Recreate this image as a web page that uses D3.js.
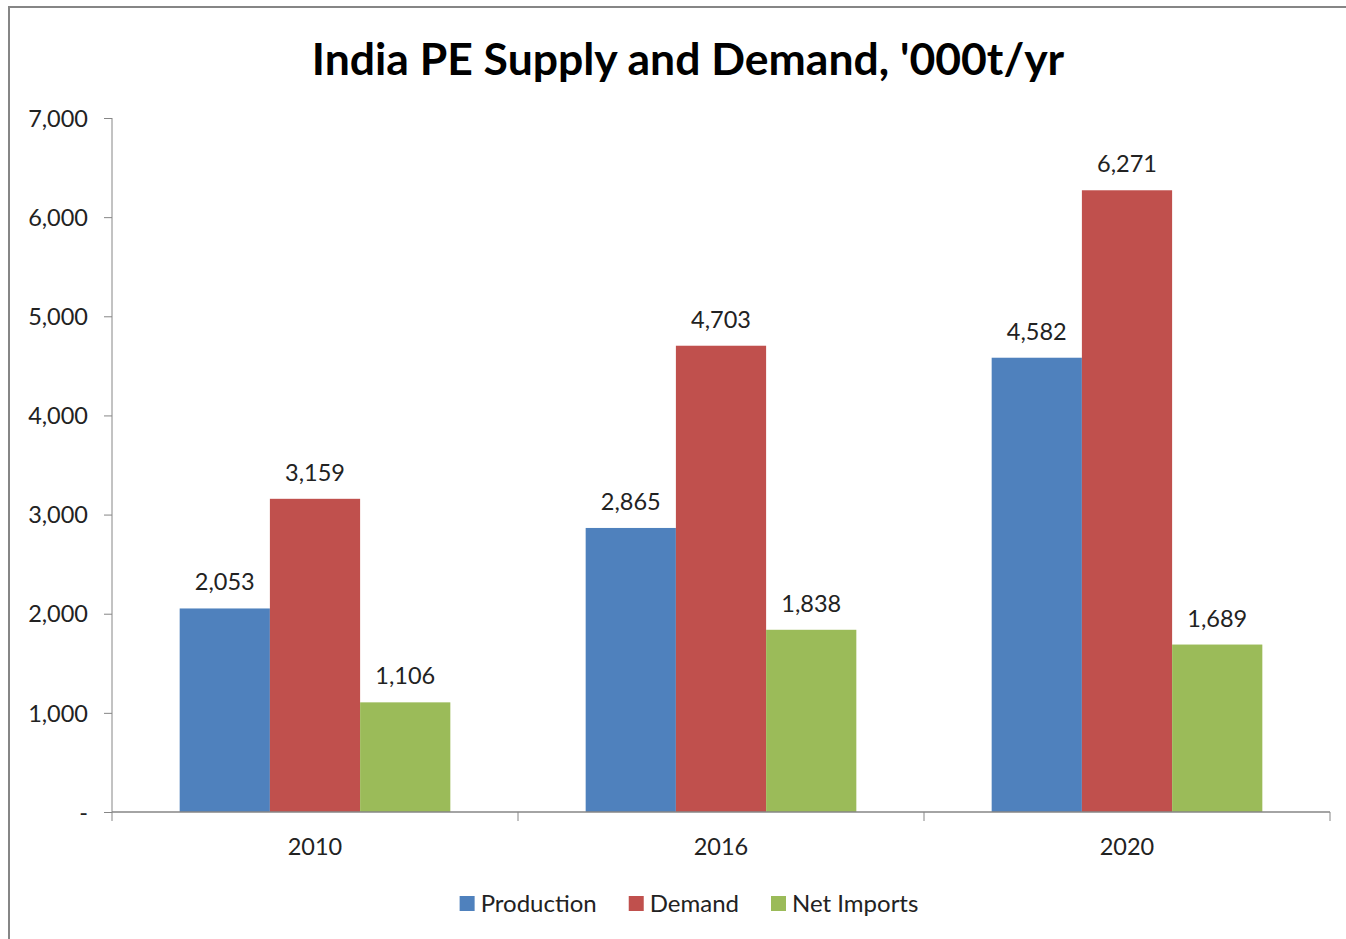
<!DOCTYPE html>
<html>
<head>
<meta charset="utf-8">
<script src="https://cdn.jsdelivr.net/npm/d3@7"></script>
<style>
  body { margin: 0; background: #fff; }
  svg text { font-family: Lato, "Open Sans", sans-serif; }
</style>
</head>
<body>
<svg id="chart" width="1346" height="939"></svg>
<script>
var years = ["2010", "2016", "2020"];
var seriesNames = ["Production", "Demand", "Net Imports"];
var seriesColors = ["#4F81BD", "#C0504D", "#9BBB59"];
var production = [2053, 2865, 4582];
var demand = [3159, 4703, 6271];
var netImports = [1106, 1838, 1689];
var yTicks = [0, 1000, 2000, 3000, 4000, 5000, 6000, 7000];

(function() {
    var values = [production, demand, netImports];

    var svg = d3.select("#chart"),
        plotLeft = 112, plotRight = 1330, plotTop = 118, plotBottom = 812,
        axisColor = "#868686",
        labelSize = "23.5px",
        fmt = d3.format(",");

    // outer frame (right/bottom edges fall outside the picture)
    svg.append("rect")
       .attr("x", 9).attr("y", 7)
       .attr("width", 1360).attr("height", 960)
       .style("fill", "none")
       .style("stroke", "#868686")
       .style("stroke-width", 2);

    svg.append("text")
       .attr("x", 688).attr("y", 75)
       .attr("text-anchor", "middle")
       .style("font-size", "44.5px")
       .style("font-weight", "bold")
       .style("fill", "#000")
       .text("India PE Supply and Demand, '000t/yr");

    var y = d3.scaleLinear().domain([0, 7000]).range([plotBottom, plotTop]);
    var x0 = d3.scaleBand().domain(years).range([plotLeft, plotRight]).padding(0);
    var x1 = d3.scaleBand().domain(seriesNames).range([0, x0.bandwidth()])
               .paddingInner(0).paddingOuter(0.75);

    // y axis
    var yAxis = svg.append("g").attr("transform", "translate(" + plotLeft + ",0)")
       .call(d3.axisLeft(y).tickValues(yTicks).tickSize(8).tickPadding(16)
               .tickFormat(function(d) { return d === 0 ? "-" : fmt(d); }));
    yAxis.select(".domain").remove();
    yAxis.selectAll("line").style("stroke", axisColor);
    yAxis.append("line").attr("x1", 0).attr("x2", 0).attr("y1", plotTop).attr("y2", plotBottom)
         .style("stroke", axisColor);
    yAxis.selectAll("text").style("font-size", labelSize).style("fill", "#222")
         .style("font-family", "Lato, sans-serif").attr("dy", "0.35em");

    // bars
    var groups = svg.selectAll(".yearGroup")
       .data(years)
       .enter()
       .append("g")
       .attr("class", "yearGroup")
       .attr("transform", function(d) { return "translate(" + x0(d) + ",0)"; });

    var bars = groups.selectAll(".bar")
       .data(function(d, i) {
           return seriesNames.map(function(s, j) {
               return {series: s, value: values[j][i], color: seriesColors[j]};
           });
       })
       .enter();

    bars.append("rect")
        .attr("class", "bar")
        .attr("x", function(d) { return x1(d.series); })
        .attr("width", x1.bandwidth())
        .attr("y", function(d) { return y(d.value); })
        .attr("height", function(d) { return plotBottom - y(d.value); })
        .style("fill", function(d) { return d.color; });

    bars.append("text")
        .attr("x", function(d) { return x1(d.series) + x1.bandwidth() / 2; })
        .attr("y", function(d) { return y(d.value) - 18; })
        .attr("text-anchor", "middle")
        .style("font-size", labelSize)
        .style("fill", "#222")
        .text(function(d) { return fmt(d.value); });

    // x axis
    var xAxisG = svg.append("g").attr("transform", "translate(0," + plotBottom + ")");
    xAxisG.append("line").attr("x1", plotLeft).attr("x2", plotRight)
          .style("stroke", axisColor).style("stroke-width", 1.5);
    var boundaries = years.map(function(d) { return x0(d); }).concat([plotRight]);
    xAxisG.selectAll(".xtick").data(boundaries).enter()
          .append("line")
          .attr("x1", function(d) { return d; }).attr("x2", function(d) { return d; })
          .attr("y1", 0).attr("y2", 9)
          .style("stroke", axisColor);
    xAxisG.selectAll(".xlabel").data(years).enter()
          .append("text")
          .attr("x", function(d) { return x0(d) + x0.bandwidth() / 2; })
          .attr("y", 43)
          .attr("text-anchor", "middle")
          .style("font-size", labelSize)
          .style("fill", "#222")
          .text(function(d) { return d; });

    // legend
    var items = svg.append("g").selectAll(".legendItem").data(seriesNames).enter()
       .append("g").attr("class", "legendItem");
    items.append("rect")
         .attr("y", 896).attr("width", 15).attr("height", 15)
         .style("fill", function(d, i) { return seriesColors[i]; });
    items.append("text")
         .attr("x", 21).attr("y", 912)
         .style("font-size", "24px")
         .style("fill", "#222")
         .text(function(d) { return d; });
    var cursor = 0, offsets = [];
    items.each(function() {
        var w = d3.select(this).select("text").node().getComputedTextLength() + 21;
        offsets.push(cursor);
        cursor += w + 32;
    });
    var startX = 689 - (cursor - 32) / 2;
    items.attr("transform", function(d, i) { return "translate(" + (startX + offsets[i]) + ",0)"; });
})();
</script>
</body>
</html>
